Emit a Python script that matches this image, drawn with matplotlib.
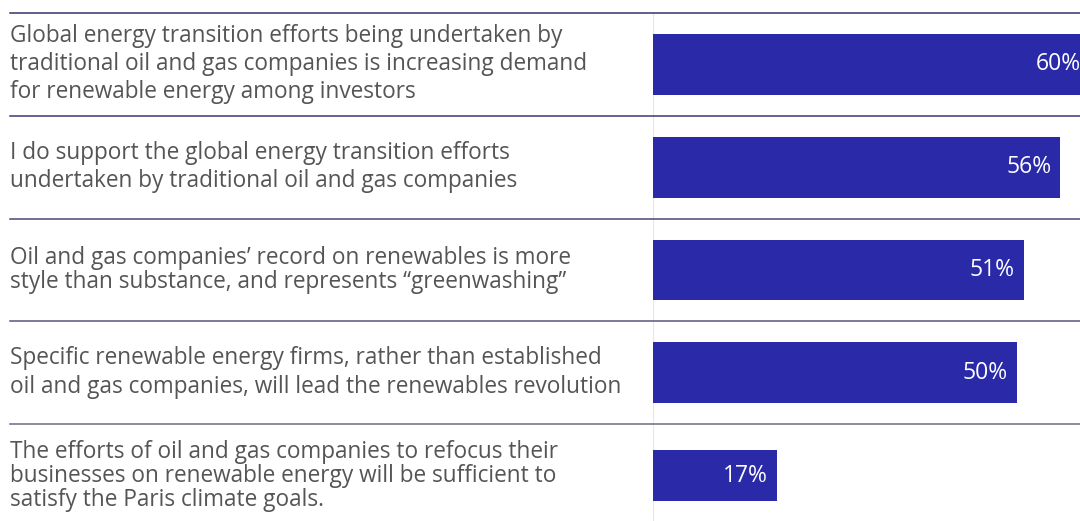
import matplotlib.pyplot as plt
from matplotlib.transforms import offset_copy

# data
statements = [
    "Global energy transition efforts being undertaken by\ntraditional oil and gas companies is increasing demand\nfor renewable energy among investors",
    "I do support the global energy transition efforts\nundertaken by traditional oil and gas companies",
    "Oil and gas companies\u2019 record on renewables is more\nstyle than substance, and represents \u201cgreenwashing\u201d",
    "Specific renewable energy firms, rather than established\noil and gas companies, will lead the renewables revolution",
    "The efforts of oil and gas companies to refocus their\nbusinesses on renewable energy will be sufficient to\nsatisfy the Paris climate goals.",
]
shares = [60, 56, 51, 50, 17]

bar_color = "#2a29a8"
line_colors = ["#34336f", "#3b3a72", "#4a4677", "#5a5580", "#6e6888"]
text_color = "#555555"
plt.rcParams['font.family'] = ['Open Sans', 'DejaVu Sans']

fig = plt.figure(figsize=(10.8, 5.21), dpi=100)
# bar area: starts at x=653px, rows from y=13px down
ax = fig.add_axes([653 / 1080, -6 / 521, 427 / 1080, 514 / 521])

ypos = list(range(len(shares)))
heights = [0.59, 0.59, 0.59, 0.59, 0.5]
spacing = [1.22, 1.22, 1.0, 1.26, 1.0]

ax.barh(ypos, shares, height=heights, color=bar_color, zorder=2)
ax.set_xlim(0, 58.7)
ax.set_ylim(len(shares) - 0.5, -0.5)
ax.axis('off')

ax.axvline(0, color="#e6e6e6", lw=1.5, zorder=1)

x_left = (10 - 653) / 427
for i in range(len(shares)):
    ax.axhline(i - 0.5, xmin=x_left, xmax=1, color=line_colors[i], lw=1.1,
               clip_on=False, zorder=3)

tr = ax.get_yaxis_transform()
for y, s, ls in zip(ypos, statements, spacing):
    ax.text(x_left, y, s, transform=tr, ha='left', va='center', fontsize=16.3,
            color=text_color, linespacing=ls, clip_on=False)

lab_tr = offset_copy(ax.transData, fig=fig, x=-9, y=0, units='dots')
for y, v in zip(ypos, shares):
    ax.text(v, y, f"{v}%", transform=lab_tr, ha='right', va='center',
            fontsize=16.5, color='white', clip_on=False, zorder=4)

fig.savefig("out.png", dpi=100)
